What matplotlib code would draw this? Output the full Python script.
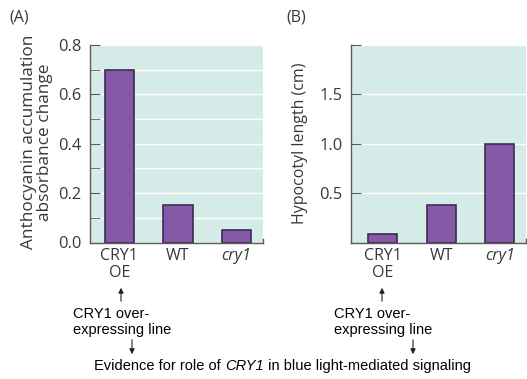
import matplotlib
matplotlib.use("Agg")
import matplotlib.pyplot as plt
from matplotlib.patches import FancyArrowPatch
from matplotlib.ticker import MultipleLocator

genotypes = ["CRY1\nOE", "WT", "cry1"]
anthocyanin = [0.70, 0.15, 0.05]
hypocotyl = [0.09, 0.38, 1.00]
yticks_a = [0.0, 0.2, 0.4, 0.6, 0.8]
yticks_b = [0.5, 1.0, 1.5, 2.0]
yticklabels_b = ["0.5", "1.0", "1.5", ""]
ylabel_a = "Anthocyanin accumulation\nabsorbance change"
ylabel_b = "Hypocotyl length (cm)"
note = "CRY1 over-\nexpressing line"

W, H = 527, 379
BG = "#d5ebe8"
BAR = "#8659a6"
EDGE = "#3b2c52"
SPINE = "#5a5a5a"
TXT = "#383838"
AXFONT = "Open Sans"
NOTEFONT = "Liberation Sans"

fig = plt.figure(figsize=(W / 100, H / 100), dpi=100)


def px(x, y):
    return x / W, 1 - y / H


def style_axes(ax, xlim):
    ax.set_facecolor(BG)
    ax.set_xlim(*xlim)
    for s in ["top", "right"]:
        ax.spines[s].set_visible(False)
    for s in ["left", "bottom"]:
        ax.spines[s].set_color(SPINE)
        ax.spines[s].set_linewidth(1.0)
    ax.tick_params(axis="y", which="both", direction="in", length=7,
                   color=SPINE, labelsize=11.8, labelcolor=TXT, pad=6)
    ax.tick_params(axis="x", length=0, labelsize=11.5, labelcolor=TXT, pad=4)
    ax.set_axisbelow(True)
    ax.grid(axis="y", which="both", color="white", linewidth=1.0)
    ax.set_xticks(range(len(genotypes)))
    ax.set_xticklabels(genotypes, fontfamily=AXFONT, linespacing=1.05)
    ax.get_xticklabels()[2].set_fontstyle("italic")
    for t in ax.get_yticklabels():
        t.set_fontfamily(AXFONT)
    # small upturned end of the baseline
    ax.plot([xlim[1], xlim[1]], [0, 0.02], transform=ax.get_xaxis_transform(),
            color=SPINE, lw=1.0, clip_on=False)


# Panel A
axA = fig.add_axes([90 / W, 1 - 242.5 / H, (263 - 90) / W, (242.5 - 45) / H])
axA.bar(range(3), anthocyanin, width=0.5, color=BAR, edgecolor=EDGE, linewidth=1.2)
axA.set_ylim(0, 0.8)
axA.yaxis.set_minor_locator(MultipleLocator(0.1))
axA.set_yticks(yticks_a, [f"{v:.1f}" for v in yticks_a])
style_axes(axA, (-0.5, 2.45))
axA.set_ylabel(ylabel_a, fontsize=12.4, fontfamily=AXFONT, color=TXT,
               linespacing=1.0)
axA.yaxis.set_label_coords(-0.215, 0.51)

# Panel B
axB = fig.add_axes([351 / W, 1 - 242.5 / H, (526 - 351) / W, (242.5 - 45) / H])
axB.bar(range(3), hypocotyl, width=0.5, color=BAR, edgecolor=EDGE, linewidth=1.2)
axB.set_ylim(0, 2.0)
axB.set_yticks(yticks_b, yticklabels_b)
style_axes(axB, (-0.54, 2.45))
axB.set_ylabel(ylabel_b, fontsize=11.5, fontfamily=AXFONT, color=TXT, labelpad=8)

# panel letters
fig.text(*px(9, 17), "(A)", fontsize=11.5, fontfamily=AXFONT, color=TXT, va="center")
fig.text(*px(286, 17), "(B)", fontsize=11.5, fontfamily=AXFONT, color=TXT, va="center")

# annotations under the axes
for up_x, txt_x, down_x in [(121, 73, 132), (382, 334, 413)]:
    fig.text(*px(txt_x, 322), note, fontsize=10.5, fontfamily=NOTEFONT,
             color="black", va="center", ha="left", linespacing=1.25)
    fig.patches.append(FancyArrowPatch(
        px(up_x, 304), px(up_x, 285), transform=fig.transFigure,
        arrowstyle="-|>,head_length=3,head_width=1.5", color="#222222", lw=0.8))
    fig.patches.append(FancyArrowPatch(
        px(down_x, 337), px(down_x, 357), transform=fig.transFigure,
        arrowstyle="-|>,head_length=3,head_width=1.5", color="#222222", lw=0.8))

# bottom caption with italic gene name
renderer = fig.canvas.get_renderer()
yc = px(0, 366)[1]
xc = 94 / W
for part, style in [("Evidence for role of ", "normal"), ("CRY1", "italic"),
                    (" in blue light-mediated signaling", "normal")]:
    t = fig.text(xc, yc, part, fontsize=10.5, fontfamily=NOTEFONT,
                 fontstyle=style, va="center", ha="left")
    xc = t.get_window_extent(renderer).x1 / (fig.dpi * fig.get_figwidth())

fig.savefig("out.png", dpi=100, facecolor="white")
